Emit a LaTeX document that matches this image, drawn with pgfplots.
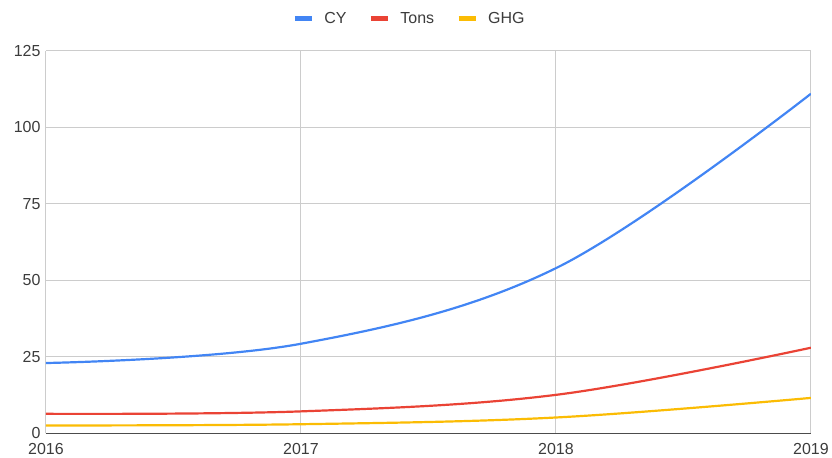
\documentclass[border=0pt]{standalone}
\usepackage{pgfplots}
\pgfplotsset{compat=1.18}
\usepackage{fontspec}
\setmainfont{Liberation Sans}
\definecolor{cyc}{HTML}{4285F4}
\definecolor{tonc}{HTML}{EA4335}
\definecolor{ghgc}{HTML}{FBBC04}
\definecolor{gridc}{HTML}{CCCCCC}
\definecolor{txtc}{HTML}{3C3C3C}
\begin{document}
\begin{tikzpicture}
\begin{axis}[
  name=ax,
  scale only axis,
  width=766pt, height=383pt,
  xmin=2016, xmax=2019, ymin=0, ymax=125,
  xtick={2016,2017,2018,2019},
  ytick={0,25,50,75,100,125},
  major tick length=0pt,
  grid=major,
  grid style={draw=gridc, line width=1pt},
  axis lines=left,
  axis line style={-},
  x axis line style={draw=black!70, line width=1.8pt},
  y axis line style={draw=gridc, line width=1pt},
  /pgf/number format/assume math mode=true,
  /pgf/number format/1000 sep={},
  tick label style={font=\fontsize{16}{18}\selectfont, text=txtc},
  yticklabel style={xshift=-2pt},
  xticklabel style={yshift=-6pt},
  legend style={draw=none, at={(0.5,1)}, anchor=south, yshift=22pt, xshift=-19pt,
    legend columns=-1, font=\fontsize{16}{18}\selectfont, text=txtc,
    /tikz/every odd column/.append style={column sep=8pt},
    /tikz/every even column/.append style={column sep=20pt}},
  legend image code/.code={\draw[#1, line width=5pt] (0pt,0pt) -- (17pt,0pt);},
  every axis plot/.append style={line width=2.2pt, smooth, tension=0.6},
]
\addplot[cyc] coordinates {(2016,23) (2017,29.3) (2018,54) (2019,111)};
\addlegendentry{CY}
\addplot[tonc] coordinates {(2016,6.4) (2017,7.2) (2018,12.6) (2019,28)};
\addlegendentry{Tons}
\addplot[ghgc] coordinates {(2016,2.6) (2017,3.0) (2018,5.2) (2019,11.6)};
\addlegendentry{GHG}
\end{axis}
\path (ax.south west) ++(-46pt,-23pt) coordinate (bl);
\path (ax.north east) ++(20pt,51pt) coordinate (tr);
\path[use as bounding box] (bl) rectangle (tr);
\end{tikzpicture}
\end{document}
